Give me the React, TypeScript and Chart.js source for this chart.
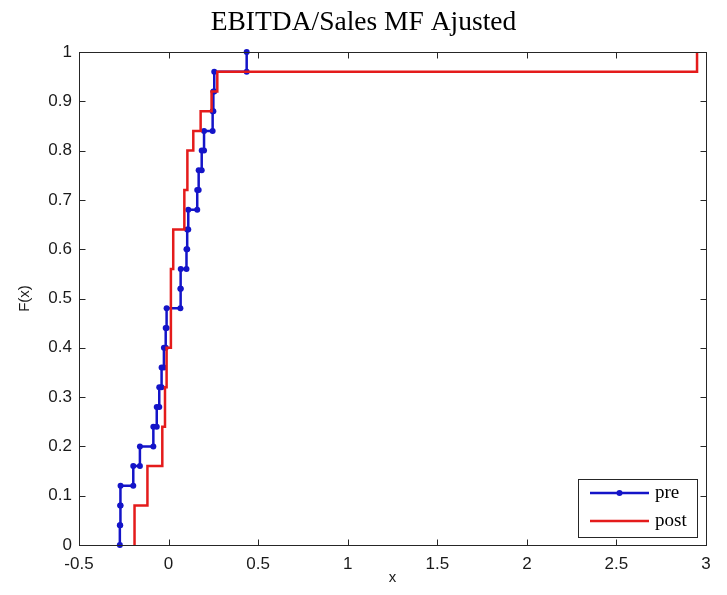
import React, { useEffect, useRef } from 'react';
import { Chart, registerables } from 'chart.js';

Chart.register(...registerables);

const TITLE = 'EBITDA/Sales MF Ajusted';
const X_LABEL = 'x';
const Y_LABEL = 'F(x)';
const seriesLabels = ['pre', 'post'];
const seriesColors = ['#1414c8', '#e41b1b'];

// sample values (sorted) read from the empirical CDF steps
const preValues = [
  -0.272, -0.27, -0.268, -0.197, -0.16, -0.085, -0.066, -0.052, -0.039, -0.026,
  -0.016, -0.011, 0.066, 0.068, 0.1, 0.104, 0.11, 0.16, 0.168, 0.185,
  0.198, 0.246, 0.25, 0.255, 0.436,
];
const postValues = [
  -0.19, -0.19, -0.118, -0.118, -0.035, -0.035, -0.02, -0.02, -0.011, -0.011,
  0.013, 0.013, 0.013, 0.013, 0.026, 0.026, 0.088, 0.088, 0.105, 0.105,
  0.138, 0.179, 0.24, 0.272, 2.95,
];

const xTickValues = [-0.5, 0, 0.5, 1, 1.5, 2, 2.5, 3];
const yTickValues = [0, 0.1, 0.2, 0.3, 0.4, 0.5, 0.6, 0.7, 0.8, 0.9, 1];

function ecdfSteps(values: number[]) {
  const s = [...values].sort((a, b) => a - b);
  const n = s.length;
  const pts: { x: number; y: number }[] = [];
  let prev = 0;
  let i = 0;
  while (i < n) {
    const x = s[i];
    let j = i;
    while (j < n && s[j] === x) j++;
    const F = j / n;
    pts.push({ x, y: prev });
    pts.push({ x, y: F });
    prev = F;
    i = j;
  }
  return pts;
}

const TICK_FONT = "'Liberation Sans', Arial, sans-serif";
const SERIF = "'Liberation Serif', 'Times New Roman', serif";

const framePlugin = {
  id: 'matlabFrame',
  afterDraw(chart: any) {
    const { ctx, chartArea } = chart;
    const { left, right, top, bottom } = chartArea;
    const xs = chart.scales.x;
    const ys = chart.scales.y;
    ctx.save();
    ctx.strokeStyle = '#262626';
    ctx.lineWidth = 1;
    const L = Math.round(left) + 0.5;
    const R = Math.round(right) + 0.5;
    const T = Math.round(top) + 0.5;
    const B = Math.round(bottom) + 0.5;
    ctx.strokeRect(L, T, R - L, B - T);
    const tl = 6;
    ctx.beginPath();
    xTickValues.forEach((v) => {
      const px = Math.round(xs.getPixelForValue(v)) + 0.5;
      ctx.moveTo(px, B);
      ctx.lineTo(px, B - tl);
      ctx.moveTo(px, T);
      ctx.lineTo(px, T + tl);
    });
    yTickValues.forEach((v) => {
      const py = Math.round(ys.getPixelForValue(v)) + 0.5;
      ctx.moveTo(L, py);
      ctx.lineTo(L + tl, py);
      ctx.moveTo(R, py);
      ctx.lineTo(R - tl, py);
    });
    ctx.stroke();

    // legend box (bottom right, inside axes)
    const bx = 578.5;
    const by = 479.5;
    const bw = 119;
    const bh = 58;
    ctx.fillStyle = '#ffffff';
    ctx.fillRect(bx, by, bw, bh);
    ctx.strokeStyle = '#262626';
    ctx.strokeRect(bx, by, bw, bh);
    const rows = [493, 521];
    chart.data.datasets.forEach((ds: any) => {
      const legendIndex = seriesLabels.indexOf(ds.label);
      const y = rows[legendIndex];
      ctx.strokeStyle = ds.borderColor;
      ctx.lineWidth = 2.5;
      ctx.beginPath();
      ctx.moveTo(590, y);
      ctx.lineTo(649, y);
      ctx.stroke();
      if (ds.pointRadius > 0) {
        ctx.fillStyle = ds.borderColor;
        ctx.beginPath();
        ctx.arc(619.5, y, 3, 0, Math.PI * 2);
        ctx.fill();
      }
      ctx.fillStyle = '#000';
      ctx.font = `19px ${SERIF}`;
      ctx.textBaseline = 'middle';
      ctx.textAlign = 'left';
      ctx.fillText(ds.label, 655, y);
    });
    ctx.restore();
  },
};

export default function App() {
  const ref = useRef<HTMLCanvasElement | null>(null);
  useEffect(() => {
    document.body.style.margin = '0';
    const canvas = ref.current;
    if (!canvas) return;
    const chart = new Chart(canvas, {
      type: 'line',
      data: {
        datasets: [
          {
            label: seriesLabels[1],
            data: ecdfSteps(postValues),
            borderColor: seriesColors[1],
            backgroundColor: seriesColors[1],
            borderWidth: 2.5,
            pointRadius: 0,
            fill: false,
            tension: 0,
            clip: false as any,
            order: 0,
          },
          {
            label: seriesLabels[0],
            data: ecdfSteps(preValues),
            borderColor: seriesColors[0],
            backgroundColor: seriesColors[0],
            borderWidth: 2.5,
            pointRadius: 3,
            pointBorderWidth: 0,
            fill: false,
            tension: 0,
            clip: false as any,
            order: 1,
          },
        ],
      },
      options: {
        animation: false,
        responsive: false,
        layout: { padding: { left: 0, right: 0, top: 0, bottom: 0 } },
        plugins: {
          legend: { display: false },
          tooltip: { enabled: false },
          title: {
            display: true,
            text: TITLE,
            color: '#000',
            font: { family: SERIF, size: 27.5, weight: 'normal' as any },
            padding: { top: 6.5, bottom: 12.5 },
          },
        },
        scales: {
          x: {
            type: 'linear',
            min: -0.5,
            max: 3,
            afterBuildTicks: (s: any) => {
              s.ticks = xTickValues.map((v) => ({ value: v }));
            },
            afterFit: (s: any) => {
              s.height = 50;
            },
            grid: { display: false, drawTicks: false },
            border: { display: false },
            ticks: {
              color: '#1a1a1a',
              font: { family: TICK_FONT, size: 17 },
              padding: 9,
              autoSkip: false,
              maxRotation: 0,
              callback: (v: any) => String(v),
            },
            title: {
              display: true,
              text: X_LABEL,
              color: '#1a1a1a',
              font: { family: TICK_FONT, size: 15 },
              padding: { top: 0, bottom: 8 },
            },
          },
          y: {
            type: 'linear',
            min: 0,
            max: 1,
            afterBuildTicks: (s: any) => {
              s.ticks = yTickValues.map((v) => ({ value: v }));
            },
            afterFit: (s: any) => {
              s.width = 79;
            },
            grid: { display: false, drawTicks: false },
            border: { display: false },
            ticks: {
              color: '#1a1a1a',
              font: { family: TICK_FONT, size: 17 },
              padding: 7,
              autoSkip: false,
              callback: (v: any) => String(v),
            },
            title: {
              display: true,
              text: Y_LABEL,
              color: '#1a1a1a',
              font: { family: TICK_FONT, size: 15 },
              padding: { top: 16, bottom: 0 },
            },
          },
          yRightMargin: {
            type: 'linear',
            position: 'right',
            min: 0,
            max: 1,
            display: true,
            afterFit: (s: any) => {
              s.width = 21;
            },
            grid: { display: false, drawTicks: false },
            border: { display: false },
            ticks: { display: false },
          },
        },
      },
      plugins: [framePlugin],
    });
    return () => chart.destroy();
  }, []);
  return <canvas ref={ref} width={727} height={595} style={{ display: 'block' }} />;
}
